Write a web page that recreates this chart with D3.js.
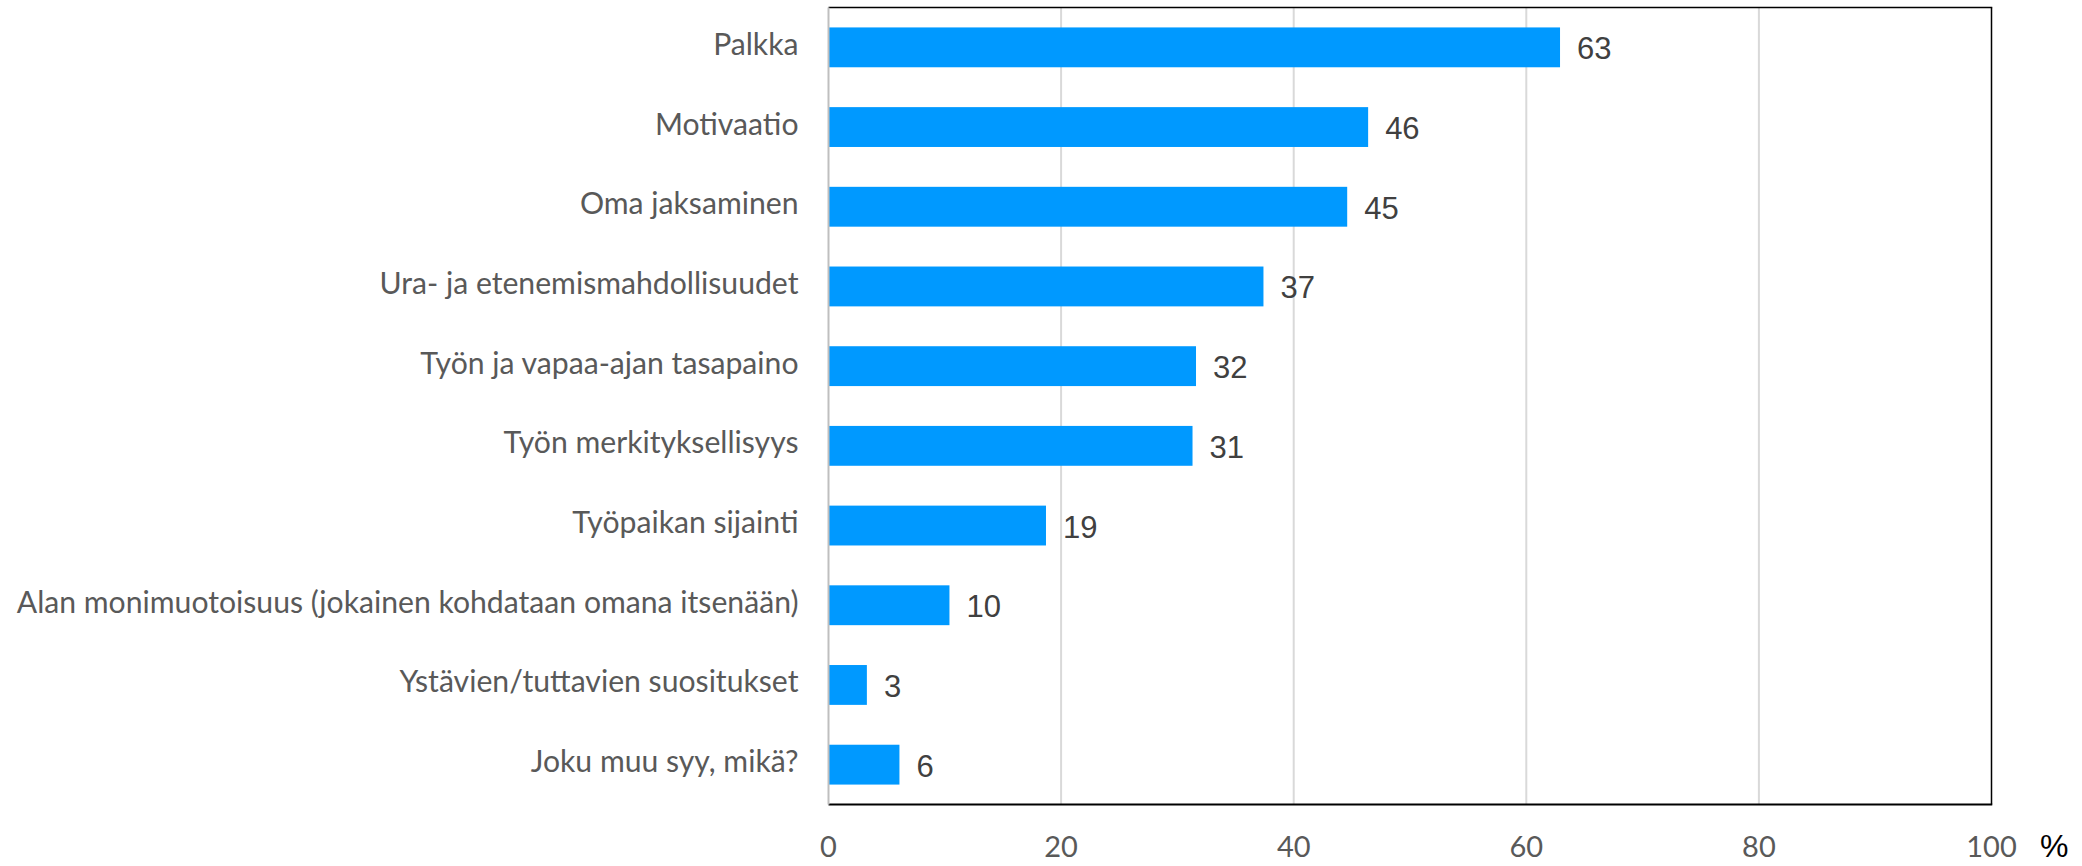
<!DOCTYPE html>
<html>
<head>
<meta charset="utf-8">
<script src="https://cdn.jsdelivr.net/npm/d3@7"></script>
<style>
  html, body { margin: 0; padding: 0; background: #fff; }
  svg { display: block; }
</style>
</head>
<body>
<svg id="chart" width="2082" height="866"></svg>
<script>
const categories = [
  "Palkka",
  "Motivaatio",
  "Oma jaksaminen",
  "Ura- ja etenemismahdollisuudet",
  "Työn ja vapaa-ajan tasapaino",
  "Työn merkityksellisyys",
  "Työpaikan sijainti",
  "Alan monimuotoisuus (jokainen kohdataan omana itsenään)",
  "Ystävien/tuttavien suositukset",
  "Joku muu syy, mikä?"
];
const values = [62.9, 46.4, 44.6, 37.4, 31.6, 31.3, 18.7, 10.4, 3.3, 6.1];
const xTicks = [0, 20, 40, 60, 80, 100];
const unitLabel = "%";

const svg = d3.select("#chart");
const plot = { left: 828.5, right: 1991.5, top: 7.5, bottom: 804.5 };

const x = d3.scaleLinear().domain([0, 100]).range([plot.left, plot.right]);
const y = d3.scaleBand().domain(categories).range([plot.top, plot.bottom])
  .paddingInner(0.5).paddingOuter(0.25);

// gridlines
svg.append("g").selectAll("line")
  .data(xTicks.filter(t => t > 0 && t < 100))
  .join("line")
  .attr("x1", d => x(d)).attr("x2", d => x(d))
  .attr("y1", plot.top).attr("y2", plot.bottom)
  .attr("stroke", "#d9d9d9").attr("stroke-width", 2);

// bars
svg.append("g").selectAll("rect")
  .data(values)
  .join("rect")
  .attr("x", x(0))
  .attr("y", (d, i) => y(categories[i]))
  .attr("width", d => x(d) - x(0))
  .attr("height", y.bandwidth())
  .attr("fill", "#0099ff");

// frame
svg.append("line").attr("x1", plot.left).attr("x2", plot.right + 0.75)
  .attr("y1", plot.top).attr("y2", plot.top)
  .attr("stroke", "#000").attr("stroke-width", 1.5);
svg.append("line").attr("x1", plot.right).attr("x2", plot.right)
  .attr("y1", plot.top).attr("y2", plot.bottom)
  .attr("stroke", "#000").attr("stroke-width", 1.5);
svg.append("line").attr("x1", plot.left).attr("x2", plot.right + 0.75)
  .attr("y1", plot.bottom).attr("y2", plot.bottom)
  .attr("stroke", "#000").attr("stroke-width", 2.2);
svg.append("line").attr("x1", plot.left).attr("x2", plot.left)
  .attr("y1", plot.top).attr("y2", plot.bottom)
  .attr("stroke", "#bfbfbf").attr("stroke-width", 2);

// value labels
const fmt = d3.format(".0f");
svg.append("g").selectAll("text")
  .data(values)
  .join("text")
  .attr("x", d => x(d) + 17)
  .attr("y", (d, i) => y(categories[i]) + y.bandwidth() / 2 + 12)
  .attr("font-family", "'Liberation Sans', Arial, sans-serif")
  .attr("font-size", 31)
  .attr("fill", "#404040")
  .text(d => fmt(d));

// category labels
const catTexts = svg.append("g").selectAll("text")
  .data(categories)
  .join("text")
  .attr("x", plot.left - 30)
  .attr("y", d => y(d) + y.bandwidth() / 2 + 7.5)
  .attr("text-anchor", "end")
  .attr("font-family", "Lato, 'Open Sans', sans-serif")
  .attr("font-size", 28)
  .attr("fill", "#595959")
  .text(d => d);
let maxW = 0;
catTexts.each(function () { maxW = Math.max(maxW, this.getComputedTextLength()); });
if (maxW > 0) catTexts.attr("font-size", 28 * 782 / maxW);

// x tick labels
svg.append("g").selectAll("text")
  .data(xTicks)
  .join("text")
  .attr("x", d => x(d))
  .attr("y", 857)
  .attr("text-anchor", "middle")
  .attr("font-family", "Lato, 'Open Sans', sans-serif")
  .attr("font-size", 29)
  .attr("fill", "#595959")
  .text(d => d);

// unit label
svg.append("text")
  .attr("x", 2040)
  .attr("y", 857)
  .attr("font-family", "'Liberation Sans', Arial, sans-serif")
  .attr("font-size", 32)
  .attr("fill", "#000")
  .text(unitLabel);
</script>
</body>
</html>
